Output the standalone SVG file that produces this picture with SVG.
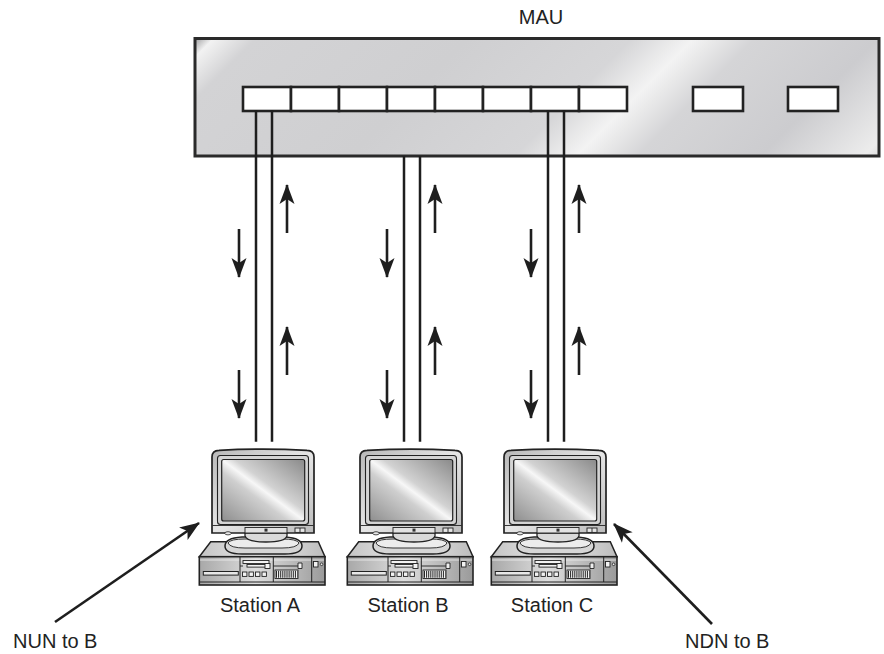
<svg xmlns="http://www.w3.org/2000/svg" width="884" height="654" viewBox="0 0 884 654">
  <style>
    .lbl { font-family: "Liberation Sans", Arial, sans-serif; font-size: 20px; fill: #222; }
    .wire { stroke: #1e1e1e; stroke-width: 2.5; fill: none; }
    .flow { stroke: #1e1e1e; stroke-width: 2.6; fill: none; marker-end: url(#head); }
    .port { fill: #ffffff; stroke: #222; stroke-width: 2.6; }
    .ol { stroke: #222; fill: none; }
  </style>
  <defs>
    <marker id="head" viewBox="-20 -8 22 16" refX="0" refY="0" markerWidth="22" markerHeight="16" markerUnits="userSpaceOnUse" orient="auto">
      <path d="M1,0 L-19,-7.5 L-14,0 L-19,7.5 Z" fill="#1e1e1e"/>
    </marker>
    <linearGradient id="mauFill" gradientUnits="userSpaceOnUse" x1="195" y1="38" x2="879" y2="722">
      <stop offset="0" stop-color="#9c9c9e"/>
      <stop offset="0.014" stop-color="#f2f2f2"/>
      <stop offset="0.045" stop-color="#d3d3d5"/>
      <stop offset="0.2" stop-color="#cfcfd1"/>
      <stop offset="0.32" stop-color="#d6d6d8"/>
      <stop offset="0.365" stop-color="#f3f3f3"/>
      <stop offset="0.41" stop-color="#d5d5d7"/>
      <stop offset="0.5" stop-color="#cccccf"/>
      <stop offset="0.575" stop-color="#ececec"/>
      <stop offset="0.6" stop-color="#d0d0d0"/>
    </linearGradient>
    <linearGradient id="screen" x1="0" y1="1" x2="1" y2="0">
      <stop offset="0" stop-color="#8e8e8e"/>
      <stop offset="0.4" stop-color="#cfcfcf"/>
      <stop offset="0.5" stop-color="#f7f7f7"/>
      <stop offset="0.58" stop-color="#d2d2d2"/>
      <stop offset="1" stop-color="#8a8a8a"/>
    </linearGradient>
    <linearGradient id="bezel" x1="0" y1="0" x2="1" y2="1">
      <stop offset="0" stop-color="#b8b8b8"/>
      <stop offset="0.5" stop-color="#e6e6e6"/>
      <stop offset="1" stop-color="#bcbcbc"/>
    </linearGradient>
    <linearGradient id="caseFront" x1="0" y1="0" x2="1" y2="0">
      <stop offset="0" stop-color="#a8a8a8"/>
      <stop offset="0.45" stop-color="#dedede"/>
      <stop offset="1" stop-color="#9a9a9a"/>
    </linearGradient>
    <linearGradient id="caseTop" x1="0" y1="0" x2="1" y2="0">
      <stop offset="0" stop-color="#c4c4c4"/>
      <stop offset="0.5" stop-color="#e8e8e8"/>
      <stop offset="1" stop-color="#bdbdbd"/>
    </linearGradient>

    <!-- desktop workstation: monitor on a stand over a horizontal case -->
    <g id="pc">
      <!-- case top surface -->
      <path d="M20.7,141.7 H128.3 L135,156.7 H9.3 Z" fill="url(#caseTop)" stroke="#222" stroke-width="1.5"/>
      <!-- case front -->
      <rect x="9.3" y="156.7" width="125.7" height="28.3" fill="url(#caseFront)" stroke="#222" stroke-width="1.6"/>
      <line x1="9.3" y1="182" x2="135" y2="182" class="ol" stroke-width="1"/>
      <line x1="10" y1="160" x2="134" y2="160" stroke="#f0f0f0" stroke-width="0.8"/>
      <line x1="50" y1="157" x2="50" y2="182" class="ol" stroke-width="1"/>
      <line x1="83.3" y1="157" x2="83.3" y2="182" class="ol" stroke-width="1"/>
      <line x1="121.7" y1="157" x2="121.7" y2="182" class="ol" stroke-width="1"/>
      <!-- floppy slot -->
      <rect x="13.3" y="171.5" width="35" height="3.6" fill="#e8e8e8" stroke="#222" stroke-width="1"/>
      <!-- drive bay -->
      <rect x="53" y="160.5" width="26" height="3" fill="#f2f2f2" stroke="#222" stroke-width="0.9"/>
      <rect x="57" y="164.5" width="22" height="2.6" fill="#f2f2f2" stroke="#222" stroke-width="0.9"/>
      <rect x="75" y="163.5" width="5" height="5" fill="#f2f2f2" stroke="#222" stroke-width="0.9"/>
      <line x1="50" y1="166" x2="53" y2="166" class="ol" stroke-width="0.9"/>
      <!-- four buttons -->
      <rect x="52.5" y="172" width="4.4" height="4.4" fill="#f2f2f2" stroke="#222" stroke-width="0.9"/>
      <rect x="59" y="172" width="4.4" height="4.4" fill="#f2f2f2" stroke="#222" stroke-width="0.9"/>
      <rect x="65.5" y="172" width="4.4" height="4.4" fill="#f2f2f2" stroke="#222" stroke-width="0.9"/>
      <rect x="72" y="172" width="4.4" height="4.4" fill="#f2f2f2" stroke="#222" stroke-width="0.9"/>
      <!-- vent grille -->
      <rect x="85" y="170" width="23" height="8.5" fill="#f4f4f4" stroke="#222" stroke-width="0.9"/>
      <line x1="86" y1="174.2" x2="107.5" y2="174.2" stroke="#222" stroke-width="7" stroke-dasharray="1 1.1"/>
      <!-- indicator and right-hand bay -->
      <path d="M83.3,166 H108 V163 H112 V168.5 H108 V166" fill="#eee" stroke="#222" stroke-width="0.9"/>
      <rect x="123.5" y="161.5" width="4.5" height="5.5" fill="#f2f2f2" stroke="#222" stroke-width="0.9"/>
      <circle cx="131.6" cy="164.3" r="1.3" fill="#f2f2f2" stroke="#222" stroke-width="0.8"/>

      <!-- stand base -->
      <path d="M35,146 Q35,138 52,137 H95 Q112,138 112,146 Q112,154 95,154 H52 Q35,154 35,146 Z" fill="#d6d6d6" stroke="#222" stroke-width="1.5"/>
      <path d="M38,143 Q40,139 55,139 H92 Q107,139 109,143 Q107,148 92,148 H55 Q40,148 38,143 Z" fill="#ececec" stroke="#222" stroke-width="0.9"/>
      <!-- neck -->
      <path d="M55,127 H97 V136 Q95,142 76,142 Q57,142 55,136 Z" fill="#dadada" stroke="#222" stroke-width="1.3"/>

      <!-- monitor body -->
      <path d="M22,133 V57 Q22,50.5 29,50.3 Q73,48 117,50.3 Q124,50.5 124,57 V133 Z" fill="url(#bezel)" stroke="#222" stroke-width="1.7"/>
      <rect x="27.5" y="55.5" width="91" height="69" rx="3" fill="#d4d4d4" stroke="#222" stroke-width="1.1"/>
      <rect x="31.7" y="59.5" width="83" height="61.5" rx="2" fill="url(#screen)" stroke="#222" stroke-width="1.2"/>
      <line x1="22.5" y1="125.5" x2="123.5" y2="125.5" class="ol" stroke-width="0.9"/>
      <!-- front controls -->
      <rect x="55" y="127.5" width="42" height="5.5" fill="#e2e2e2" stroke="#222" stroke-width="0.9"/>
      <rect x="74.5" y="128.6" width="3" height="3" fill="#333"/>
      <rect x="105" y="128" width="10" height="4.4" fill="#e6e6e6" stroke="#222" stroke-width="0.9"/>
      <line x1="110" y1="128" x2="110" y2="132.4" class="ol" stroke-width="0.9"/>
      <ellipse cx="38" cy="133.3" rx="3.2" ry="1.6" fill="#e6e6e6" stroke="#222" stroke-width="0.8"/>
    </g>
  </defs>

  <rect width="884" height="654" fill="#ffffff"/>

  <!-- MAU chassis with lobe ports and ring-in / ring-out ports -->
  <g id="mau">
    <rect x="195" y="38.5" width="684" height="117.5" fill="url(#mauFill)" stroke="#2a2a2a" stroke-width="3"/>
    <rect class="port" x="243" y="87" width="48" height="24"/>
    <rect class="port" x="291" y="87" width="48" height="24"/>
    <rect class="port" x="339" y="87" width="48" height="24"/>
    <rect class="port" x="387" y="87" width="48" height="24"/>
    <rect class="port" x="435" y="87" width="48" height="24"/>
    <rect class="port" x="483" y="87" width="48" height="24"/>
    <rect class="port" x="531" y="87" width="48" height="24"/>
    <rect class="port" x="579" y="87" width="48" height="24"/>
    <rect class="port" x="693" y="87" width="50" height="24"/>
    <rect class="port" x="788" y="87" width="50" height="24"/>
    <text class="lbl" x="541" y="24" text-anchor="middle">MAU</text>
  </g>

  <!-- stations -->
  <g id="station-a">
    <use href="#pc" transform="translate(190,400)"/>
    <text class="lbl" x="260" y="612" text-anchor="middle">Station A</text>
  </g>
  <g id="station-b">
    <use href="#pc" transform="translate(338,400)"/>
    <text class="lbl" x="408" y="612" text-anchor="middle">Station B</text>
  </g>
  <g id="station-c">
    <use href="#pc" transform="translate(482,400)"/>
    <text class="lbl" x="552" y="612" text-anchor="middle">Station C</text>
  </g>

  <g id="neighbour-labels">
    <text class="lbl" x="13" y="648">NUN to B</text>
    <text class="lbl" x="685" y="648">NDN to B</text>
  </g>

  <!-- lobe cables and data-flow arrows -->
  <g id="connectors">
    <line class="wire" x1="256" y1="110" x2="256" y2="441.7"/>
    <line class="wire" x1="272" y1="110" x2="272" y2="441.7"/>
    <line class="wire" x1="404" y1="156" x2="404" y2="441.7"/>
    <line class="wire" x1="420" y1="156" x2="420" y2="441.7"/>
    <line class="wire" x1="548" y1="110" x2="548" y2="441.7"/>
    <line class="wire" x1="564" y1="110" x2="564" y2="441.7"/>

    <line class="flow" x1="239" y1="229" x2="239" y2="277"/>
    <line class="flow" x1="239" y1="370" x2="239" y2="418"/>
    <line class="flow" x1="287" y1="233" x2="287" y2="185"/>
    <line class="flow" x1="287" y1="375" x2="287" y2="327"/>

    <line class="flow" x1="387" y1="229" x2="387" y2="277"/>
    <line class="flow" x1="387" y1="370" x2="387" y2="418"/>
    <line class="flow" x1="435" y1="233" x2="435" y2="185"/>
    <line class="flow" x1="435" y1="375" x2="435" y2="327"/>

    <line class="flow" x1="531" y1="229" x2="531" y2="277"/>
    <line class="flow" x1="531" y1="370" x2="531" y2="418"/>
    <line class="flow" x1="579" y1="233" x2="579" y2="185"/>
    <line class="flow" x1="579" y1="375" x2="579" y2="327"/>

    <line class="flow" x1="55" y1="622" x2="199" y2="523"/>
    <line class="flow" x1="712" y1="624" x2="614" y2="524"/>
  </g>
</svg>
